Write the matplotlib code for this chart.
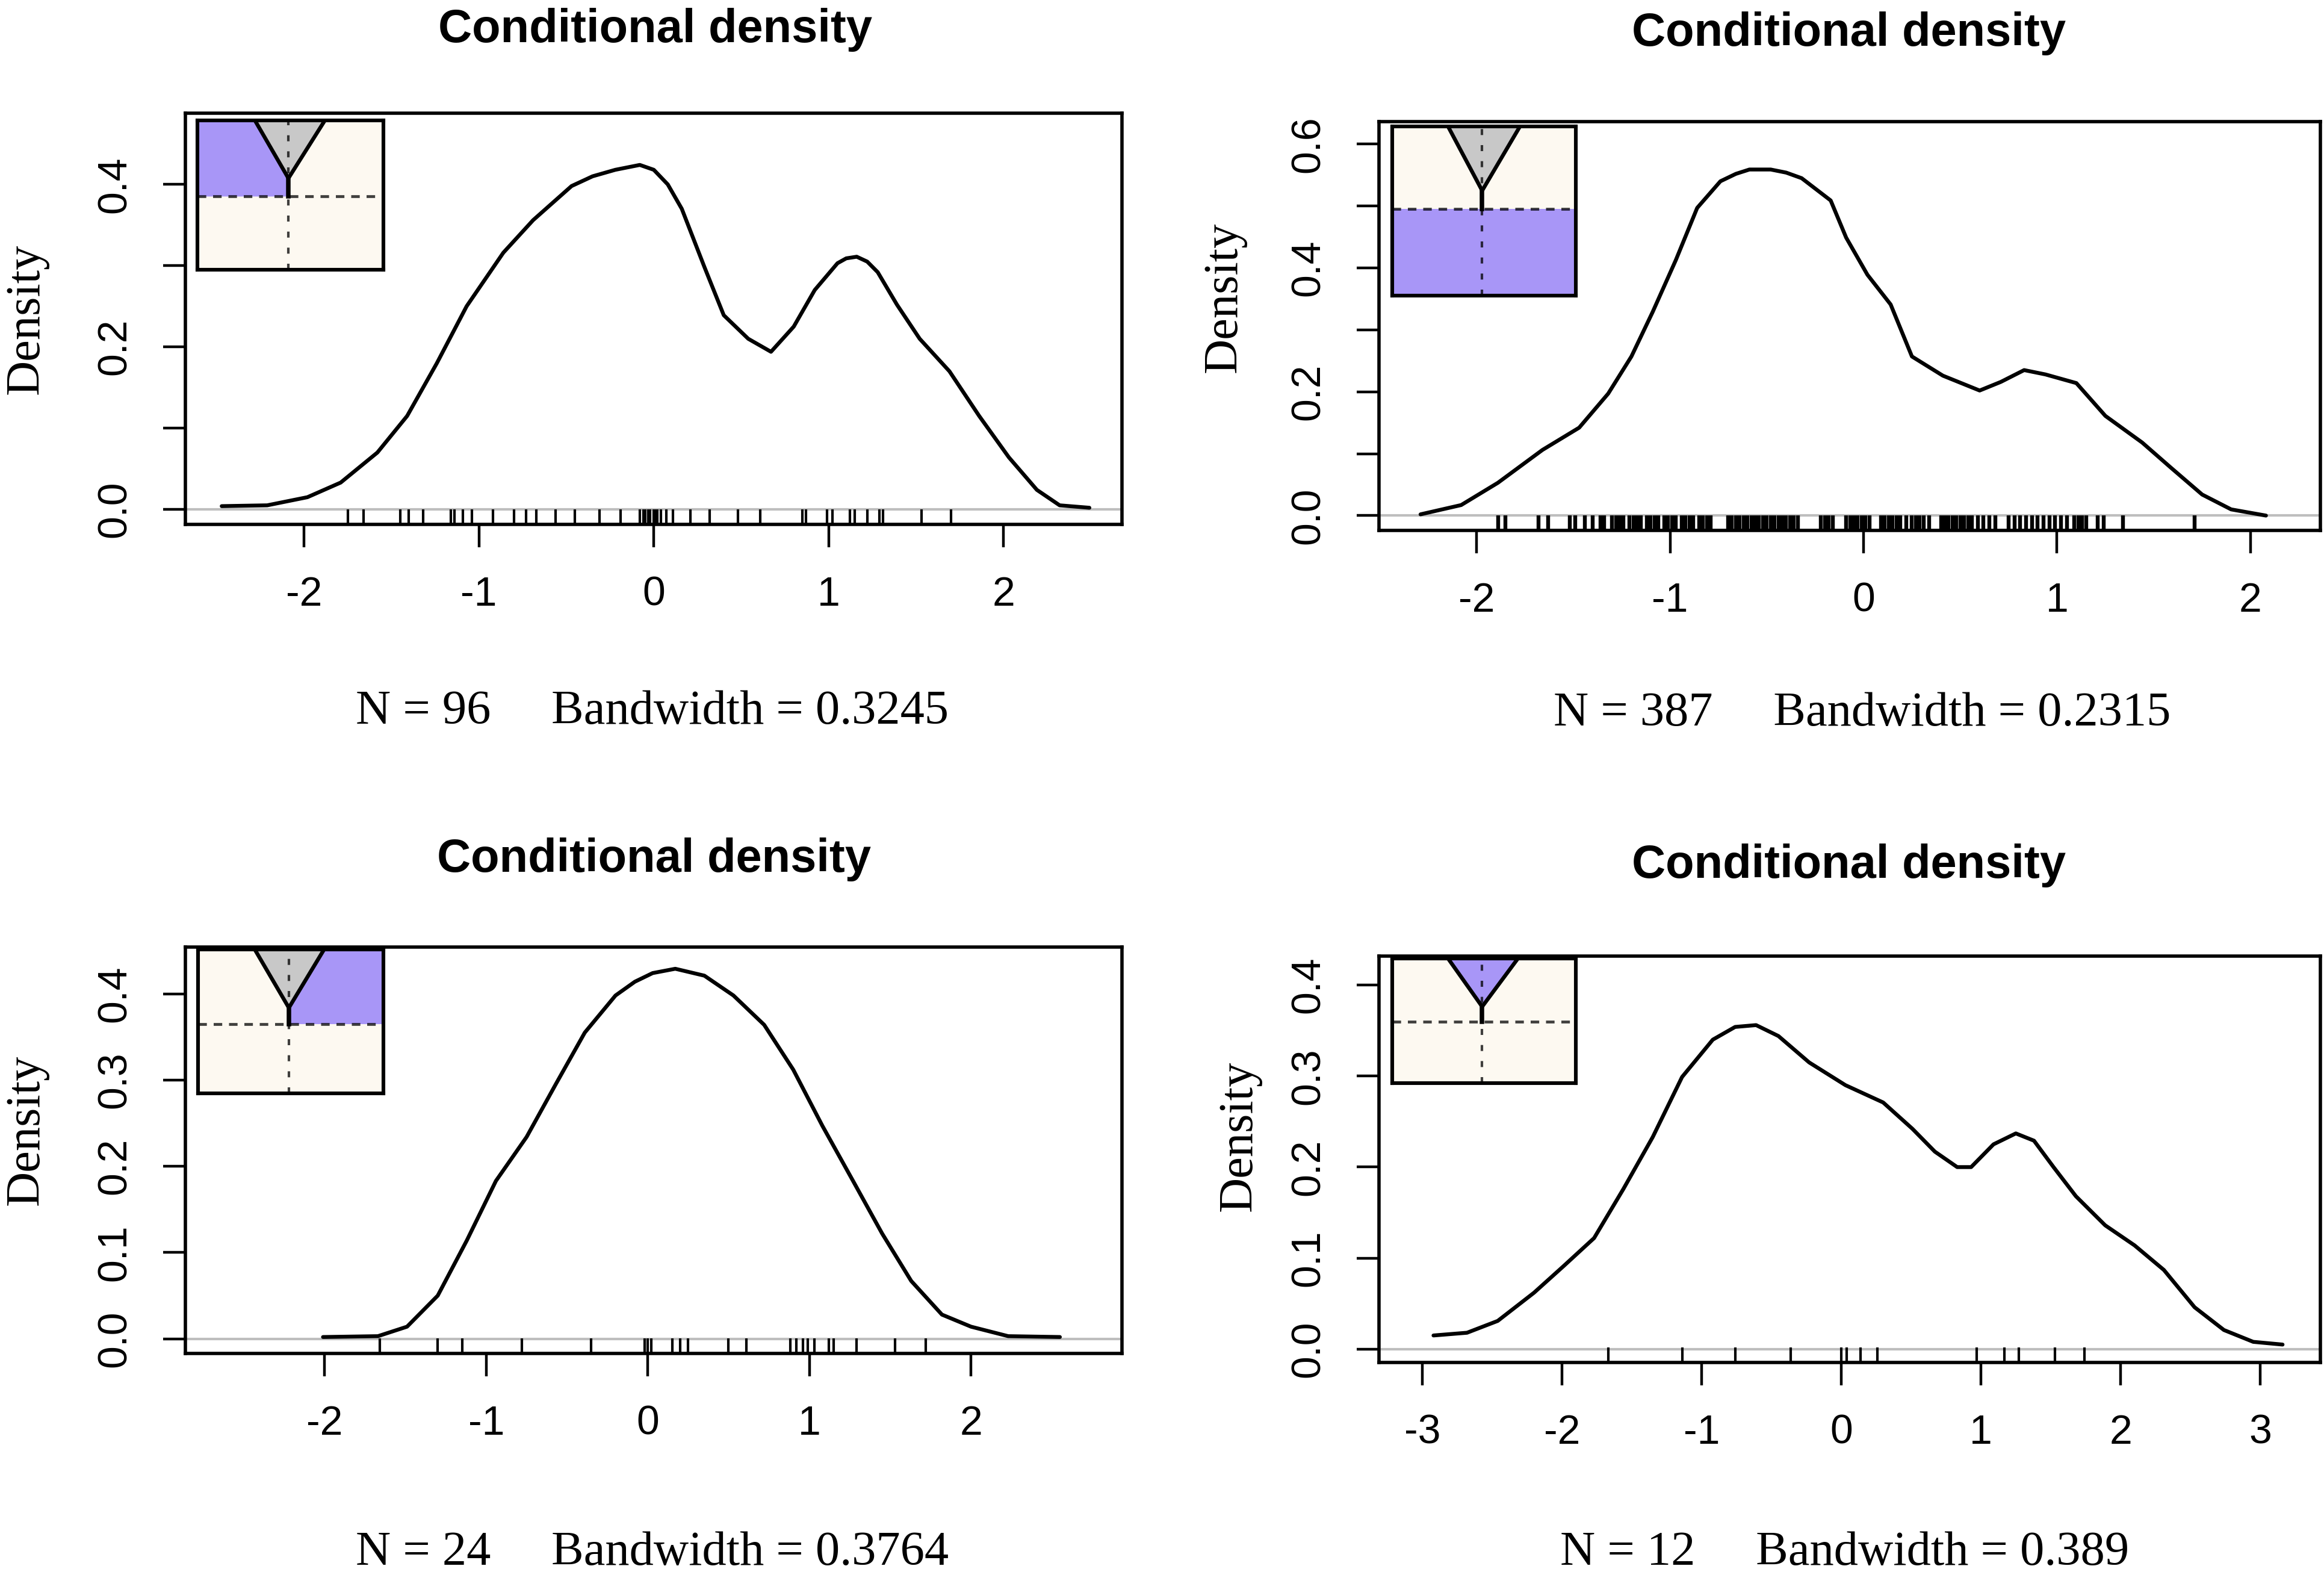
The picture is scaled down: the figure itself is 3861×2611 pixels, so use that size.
import matplotlib
matplotlib.use("Agg")
import matplotlib.pyplot as plt
from matplotlib.patches import Polygon

plt.rcParams['axes.unicode_minus'] = False

# ---------------- data ----------------
titles = ["Conditional density"] * 4
xlabels = ["N = 96     Bandwidth = 0.3245",
           "N = 387     Bandwidth = 0.2315",
           "N = 24     Bandwidth = 0.3764",
           "N = 12     Bandwidth = 0.389"]

p1_x = [-2.47, -2.21, -1.98, -1.79, -1.58, -1.41, -1.24, -1.07, -0.86, -0.69, -0.47, -0.35,
        -0.22, -0.08, 0.0, 0.08, 0.16, 0.29, 0.40, 0.54, 0.67, 0.80, 0.92, 1.05, 1.10, 1.16,
        1.22, 1.28, 1.39, 1.52, 1.69, 1.86, 2.03, 2.19, 2.32, 2.49]
p1_y = [0.004, 0.005, 0.015, 0.033, 0.070, 0.115, 0.180, 0.250, 0.316, 0.356, 0.398, 0.410,
        0.418, 0.424, 0.418, 0.400, 0.370, 0.298, 0.239, 0.210, 0.194, 0.225, 0.270, 0.303,
        0.309, 0.311, 0.305, 0.292, 0.252, 0.210, 0.170, 0.115, 0.064, 0.024, 0.005, 0.002]
p1_rug = [-1.75, -1.66, -1.45, -1.40, -1.32, -1.16, -1.14, -1.09, -1.04, -0.92, -0.80, -0.73,
          -0.67, -0.56, -0.45, -0.31, -0.19, -0.08, -0.06, -0.05, -0.03, -0.02, 0.0, 0.01,
          0.02, 0.04, 0.07, 0.11, 0.21, 0.32, 0.48, 0.61, 0.85, 0.87, 0.99, 1.02, 1.12, 1.15,
          1.22, 1.29, 1.31, 1.53, 1.70]

p2_x = [-2.29, -2.08, -1.89, -1.66, -1.47, -1.32, -1.20, -1.09, -0.97, -0.86, -0.74, -0.66,
        -0.59, -0.48, -0.40, -0.32, -0.17, -0.09, 0.02, 0.14, 0.25, 0.41, 0.60, 0.71, 0.83,
        0.94, 1.10, 1.25, 1.44, 1.59, 1.75, 1.90, 2.08]
p2_y = [0.002, 0.017, 0.053, 0.106, 0.142, 0.197, 0.257, 0.329, 0.413, 0.497, 0.540, 0.552,
        0.559, 0.559, 0.554, 0.545, 0.509, 0.449, 0.389, 0.341, 0.257, 0.226, 0.202, 0.216,
        0.235, 0.228, 0.214, 0.161, 0.118, 0.077, 0.034, 0.010, 0.000]
p2_rug = [-1.89, -1.85, -1.68, -1.63, -1.52, -1.49, -1.44, -1.40, -1.36, -1.34,
          -1.30, -1.28, -1.26, -1.24, -1.21, -1.19, -1.17, -1.15, -1.12, -1.10, -1.08, -1.06,
          -1.03, -1.01, -0.99, -0.97, -0.94, -0.92, -0.90, -0.88, -0.85, -0.83, -0.81, -0.79,
          -0.70, -0.68, -0.66, -0.64, -0.62, -0.60, -0.58, -0.56, -0.54, -0.52, -0.50, -0.48,
          -0.46, -0.44, -0.42, -0.40, -0.38, -0.36, -0.34,
          -0.22, -0.20, -0.18, -0.16,
          -0.09, -0.07, -0.05, -0.03, -0.01, 0.01, 0.03,
          0.09, 0.11, 0.13, 0.15, 0.17, 0.19, 0.22,
          0.25, 0.27, 0.29, 0.31, 0.34,
          0.40, 0.42, 0.44, 0.46, 0.48, 0.50, 0.52, 0.54, 0.56, 0.59,
          0.62, 0.65, 0.68,
          0.75, 0.78, 0.81, 0.84,
          0.87, 0.90, 0.93, 0.96,
          0.99, 1.02, 1.05,
          1.09, 1.11, 1.13,
          1.15, 1.21, 1.24, 1.34, 1.71]

p3_x = [-2.01, -1.67, -1.49, -1.30, -1.12, -0.94, -0.75, -0.57, -0.39, -0.20, -0.08, 0.03,
        0.17, 0.35, 0.53, 0.72, 0.90, 1.08, 1.27, 1.45, 1.63, 1.82, 2.00, 2.23, 2.55]
p3_y = [0.002, 0.003, 0.014, 0.050, 0.114, 0.183, 0.234, 0.295, 0.355, 0.398, 0.414, 0.424,
        0.429, 0.421, 0.398, 0.364, 0.312, 0.247, 0.183, 0.122, 0.067, 0.028, 0.014, 0.003,
        0.002]
p3_rug = [-1.66, -1.30, -1.15, -0.78, -0.35, -0.02, 0.0, 0.02, 0.15, 0.20, 0.25, 0.50, 0.61,
          0.88, 0.92, 0.96, 0.99, 1.03, 1.12, 1.15, 1.29, 1.53, 1.72]

p4_x = [-2.92, -2.68, -2.46, -2.20, -1.99, -1.77, -1.56, -1.35, -1.14, -0.92, -0.76, -0.61,
        -0.45, -0.23, 0.03, 0.30, 0.51, 0.67, 0.83, 0.93, 1.09, 1.25, 1.38, 1.52, 1.68, 1.89,
        2.10, 2.31, 2.53, 2.74, 2.95, 3.16]
p4_y = [0.015, 0.018, 0.031, 0.062, 0.091, 0.122, 0.176, 0.233, 0.299, 0.340, 0.354, 0.356,
        0.344, 0.315, 0.290, 0.271, 0.242, 0.217, 0.200, 0.200, 0.225, 0.237, 0.229, 0.200,
        0.168, 0.136, 0.114, 0.087, 0.046, 0.021, 0.008, 0.005]
p4_rug = [-1.67, -1.14, -0.76, -0.36, 0.0, 0.04, 0.14, 0.26, 0.97, 1.17, 1.27, 1.53, 1.74]

xs = [p1_x, p2_x, p3_x, p4_x]
ys = [p1_y, p2_y, p3_y, p4_y]
rugs = [p1_rug, p2_rug, p3_rug, p4_rug]

xticks = [[-2, -1, 0, 1, 2], [-2, -1, 0, 1, 2], [-2, -1, 0, 1, 2], [-3, -2, -1, 0, 1, 2, 3]]
yticks = [[0.0, 0.1, 0.2, 0.3, 0.4],
          [0.0, 0.1, 0.2, 0.3, 0.4, 0.5, 0.6],
          [0.0, 0.1, 0.2, 0.3, 0.4],
          [0.0, 0.1, 0.2, 0.3, 0.4]]
yticklabels = [["0.0", "", "0.2", "", "0.4"],
               ["0.0", "", "0.2", "", "0.4", "", "0.6"],
               ["0.0", "0.1", "0.2", "0.3", "0.4"],
               ["0.0", "0.1", "0.2", "0.3", "0.4"]]
# which part of the inset is highlighted
highlight = ["upper_left", "lower", "upper_right", "triangle"]

# ---------------- layout / style ----------------
xlims = [(-2.678, 2.678), (-2.506, 2.360), (-2.862, 2.936), (-3.312, 3.429)]
ylims = [(-0.0186, 0.488), (-0.024, 0.636), (-0.0172, 0.454), (-0.0147, 0.4318)]
ax_pos = [[0.07972, 0.66635, 0.40306, 0.26181],
          [0.59311, 0.66257, 0.40497, 0.25992],
          [0.07972, 0.13894, 0.40306, 0.25851],
          [0.59311, 0.13327, 0.40497, 0.25851]]
inset_pos = [[0.08482, 0.82845, 0.0801, 0.09499],
             [0.59885, 0.81191, 0.07908, 0.10775],
             [0.08520, 0.30435, 0.07972, 0.09168],
             [0.59885, 0.31096, 0.07908, 0.07940]]
# inset geometry: (tri left x, tri right x, apex y, dashed h y, vertical x)
inset_geom = [(0.31, 0.686, 0.612, 0.49, 0.49),
              (0.304, 0.696, 0.62, 0.512, 0.49),
              (0.306, 0.68, 0.595, 0.483, 0.49),
              (0.304, 0.685, 0.613, 0.492, 0.49)]
title_pos = [(0.2819, 0.97319), (0.7953, 0.97089), (0.2813, 0.44542), (0.7953, 0.44159)]
xlabel_pos = [(0.2805, 0.53964), (0.8010, 0.5385), (0.2805, 0.0046), (0.7934, 0.0046)]
ylabel_pos = [(0.0114, 0.797), (0.5267, 0.811), (0.0114, 0.2811), (0.5331, 0.2773)]
rug_lw = [3.0, 4.6, 3.0, 3.0]

SANS = "Liberation Sans"
SERIF = "Liberation Serif"
PURPLE = "#A896F7"
GRAY = "#C8C8C8"
CREAM = "#FDF9F1"

fig = plt.figure(figsize=(38.62, 26.11), dpi=100)

for i in range(4):
    ax = fig.add_axes(ax_pos[i])
    ax.axhline(0, color="#BEBEBE", lw=3.0, zorder=1)
    ax.plot(xs[i], ys[i], color="black", lw=4.6, zorder=3,
            solid_joinstyle="round", solid_capstyle="round")
    ax.vlines(rugs[i], 0, 0.037, transform=ax.get_xaxis_transform(),
              color="black", lw=rug_lw[i], zorder=2)
    ax.set_xlim(*xlims[i])
    ax.set_ylim(*ylims[i])
    ax.set_xticks(xticks[i])
    ax.set_xticklabels([str(t) for t in xticks[i]], fontfamily=SANS, fontsize=49)
    ax.set_yticks(yticks[i])
    ax.set_yticklabels(yticklabels[i], fontfamily=SANS, fontsize=49, rotation=90, va="center")
    ax.tick_params(axis="both", direction="out", length=27, width=3.2, color="black")
    ax.tick_params(axis="x", pad=34)
    ax.tick_params(axis="y", pad=34)
    for s in ax.spines.values():
        s.set_linewidth(4.0)
        s.set_color("black")

    fig.text(*title_pos[i], titles[i], ha="center", va="baseline",
             fontfamily=SANS, fontweight="bold", fontsize=56)
    fig.text(*xlabel_pos[i], xlabels[i], ha="center", va="baseline",
             fontfamily=SERIF, fontsize=58)
    fig.text(*ylabel_pos[i], "Density", ha="center", va="center", rotation=90,
             fontfamily=SERIF, fontsize=58)

    # inset
    ia = fig.add_axes(inset_pos[i])
    ia.set_xlim(0, 1)
    ia.set_ylim(0, 1)
    ia.set_xticks([])
    ia.set_yticks([])
    ia.set_facecolor(CREAM)
    for s in ia.spines.values():
        s.set_linewidth(4.4)
        s.set_color("black")
    tl, tr, ay, hy, vx = inset_geom[i]
    tri = [(tl, 1), (tr, 1), (vx, ay)]
    ia.add_patch(Polygon(tri, closed=True, facecolor=GRAY, edgecolor="none", zorder=1))
    h = highlight[i]
    if h == "upper_left":
        poly = [(0, 1), (tl, 1), (vx, ay), (vx, hy), (0, hy)]
    elif h == "lower":
        poly = [(0, 0), (1, 0), (1, hy), (0, hy)]
    elif h == "upper_right":
        poly = [(tr, 1), (1, 1), (1, hy), (vx, hy), (vx, ay)]
    else:
        poly = tri
    ia.add_patch(Polygon(poly, closed=True, facecolor=PURPLE, edgecolor="none", zorder=2))
    ia.plot([0, 1], [hy, hy], color="black", alpha=0.75, lw=3.4, dashes=(3.0, 2.4), zorder=3)
    ia.plot([vx, vx], [0, 1], color="black", alpha=0.75, lw=3.0, dashes=(2.4, 4.0), zorder=3)
    ia.plot([tl, vx, tr], [1, ay, 1], color="black", lw=4.6, zorder=4)
    ia.plot([vx, vx], [ay, hy], color="black", lw=5.4, zorder=4)

fig.savefig("out.png", dpi=100, facecolor="white")
